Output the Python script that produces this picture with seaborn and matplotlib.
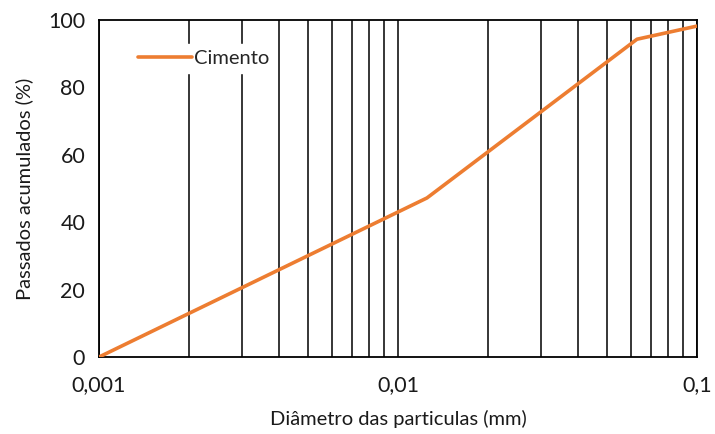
import matplotlib
matplotlib.use("Agg")
import matplotlib.pyplot as plt
import matplotlib.ticker as mticker
import seaborn as sns
import pandas as pd

# Particle size distribution of the cement
diametro = [0.001, 0.0125, 0.063, 0.1]
passados = [0.0, 47.2, 94.3, 98.2]
serie = "Cimento"

x_ticks = [0.001, 0.01, 0.1]
x_tick_labels = ["0,001", "0,01", "0,1"]
y_ticks = [0, 20, 40, 60, 80, 100]

sns.set_theme(style="white")
plt.rcParams["font.family"] = ["Lato", "DejaVu Sans"]

df = pd.DataFrame({"d": diametro, "p": passados, "s": serie})

fig = plt.figure(figsize=(7.15, 4.34), dpi=100)
ax = fig.add_axes([0.1385, 0.1774, 0.8363, 0.7765])

sns.lineplot(data=df, x="d", y="p", hue="s", palette=["#ED7D31"],
             linewidth=2.6, ax=ax, zorder=3)

ax.set_xscale("log")
ax.set_xlim(0.001, 0.1)
ax.set_ylim(0, 100)

# vertical grid on every minor and major decade position
ax.xaxis.set_minor_locator(mticker.LogLocator(base=10, subs=range(2, 10)))
ax.xaxis.set_major_locator(mticker.FixedLocator(x_ticks))
ax.xaxis.set_major_formatter(mticker.FixedFormatter(x_tick_labels))
ax.xaxis.set_minor_formatter(mticker.NullFormatter())
ax.grid(True, which="both", axis="x", color="black", linewidth=1.1)
ax.grid(False, axis="y")
ax.set_yticks(y_ticks)

for sp in ax.spines.values():
    sp.set_color("black")
    sp.set_linewidth(1.3)

ax.tick_params(axis="both", which="both", length=0, labelsize=15.5, colors="#1a1a1a")
ax.tick_params(axis="x", pad=13)
ax.tick_params(axis="y", pad=10)

ax.set_xlabel("Diâmetro das particulas (mm)", fontsize=14.5, labelpad=11, color="#1a1a1a")
ax.set_ylabel("Passados acumulados (%)", fontsize=14.5, labelpad=11, color="#1a1a1a")

leg = ax.legend(loc="upper left", bbox_to_anchor=(0.038, 0.958), frameon=True,
                fontsize=14.5, handlelength=2.7, handletextpad=0.1,
                borderpad=0.3, fancybox=False)
leg.get_frame().set_edgecolor("white")
leg.get_frame().set_facecolor("white")
leg.get_frame().set_alpha(1.0)
leg.set_zorder(5)

fig.savefig("out.png", dpi=100)
